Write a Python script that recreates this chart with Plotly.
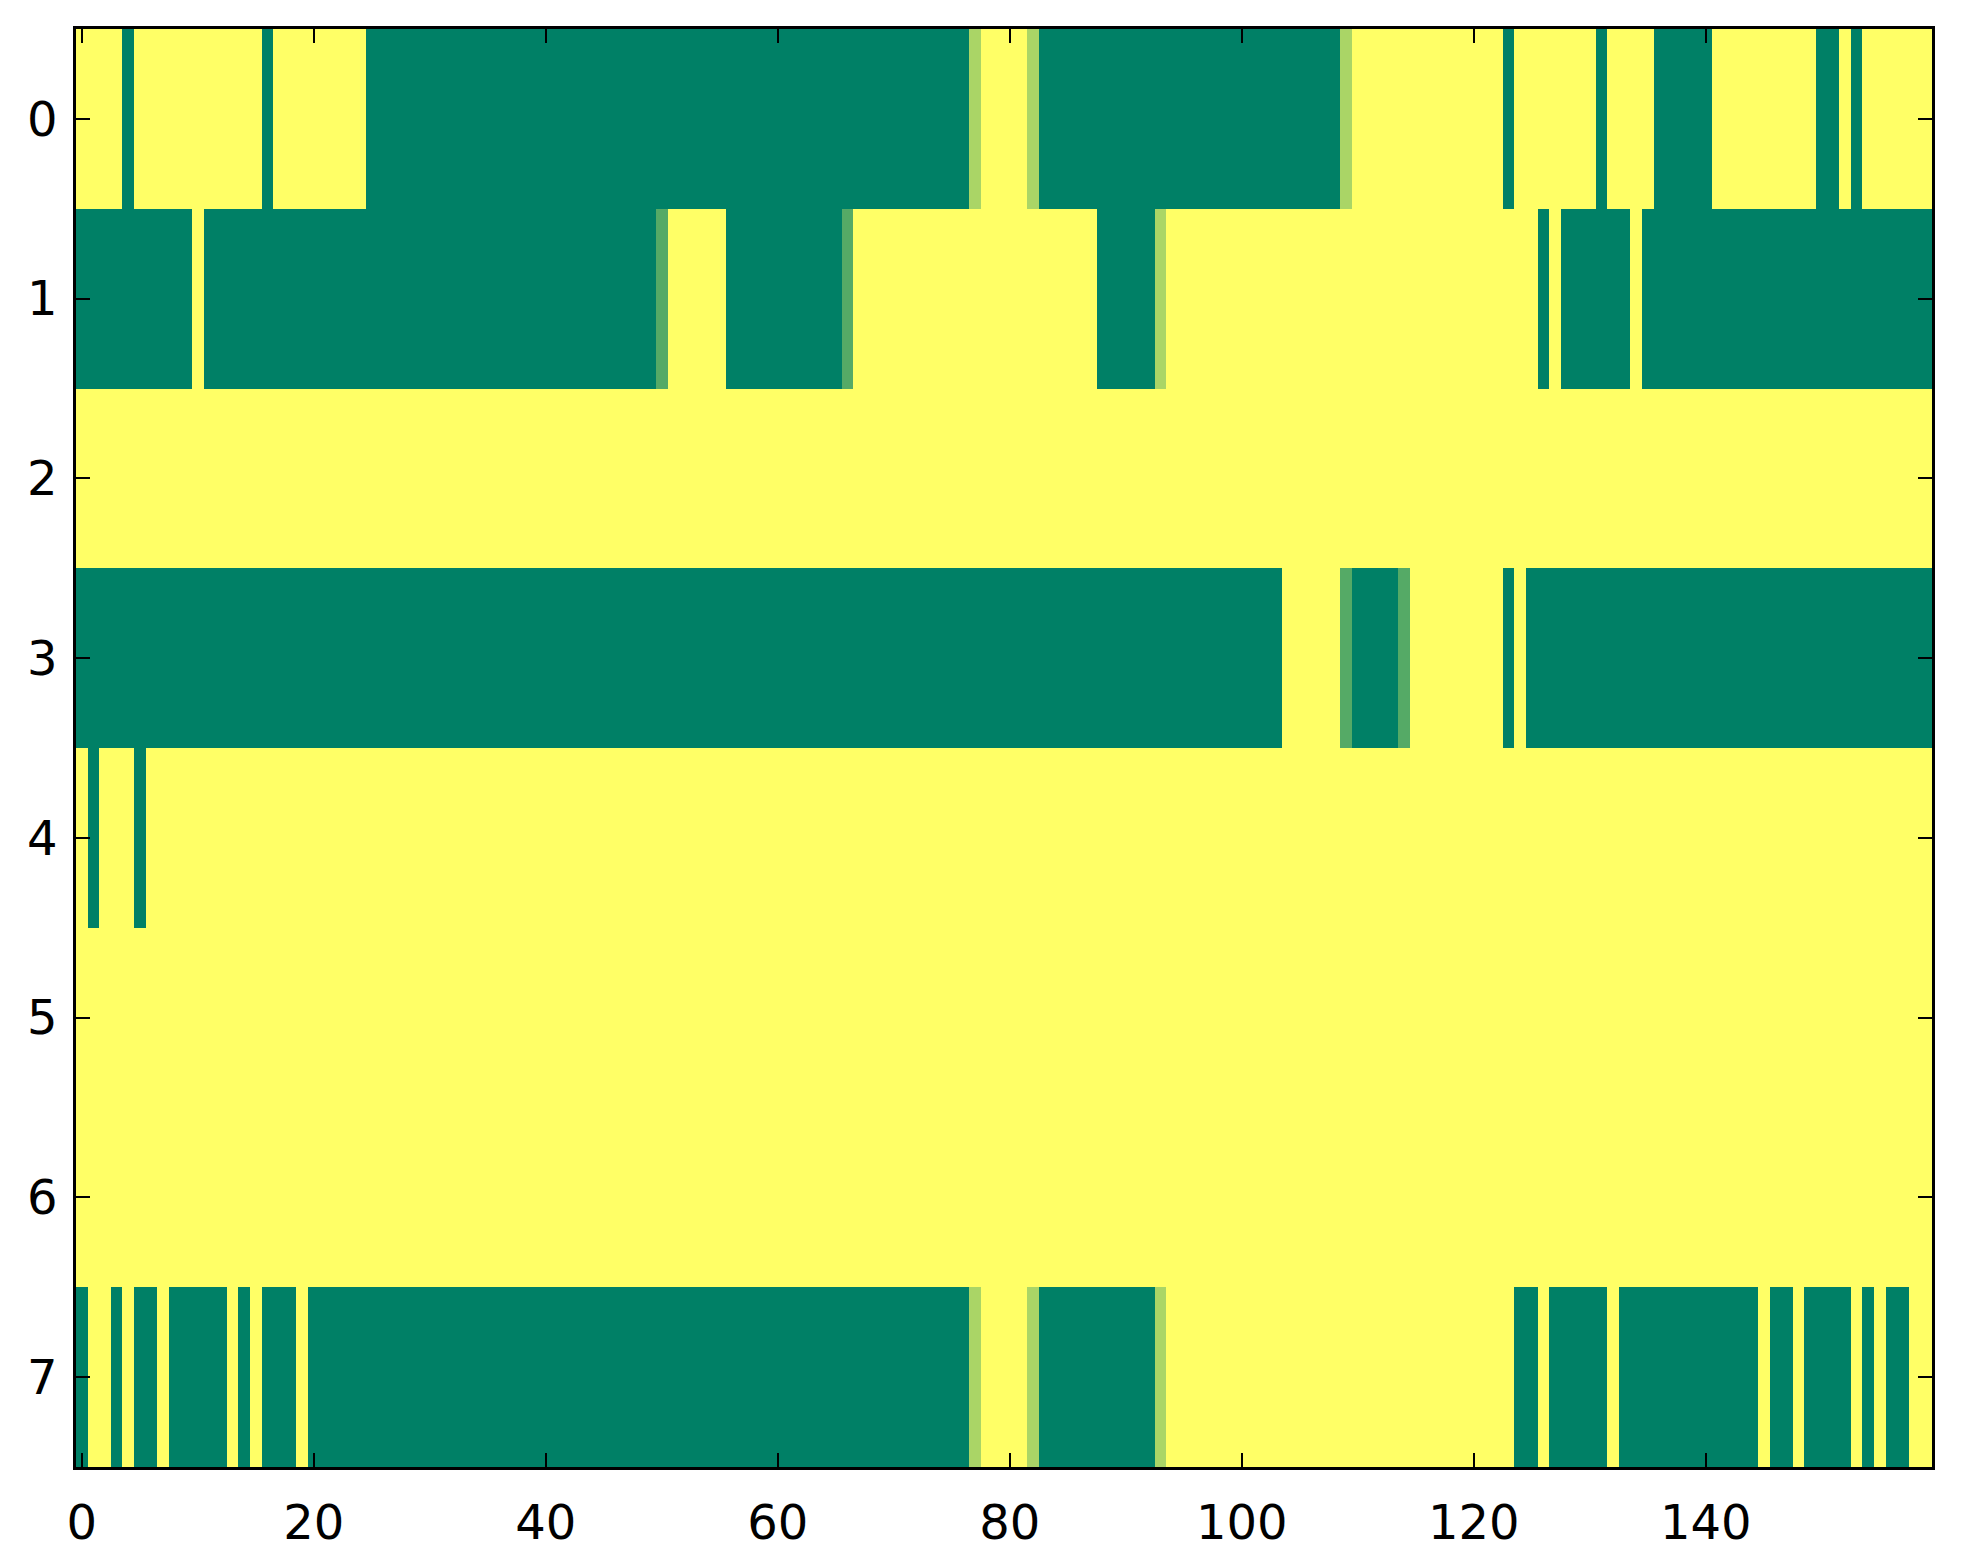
import plotly.graph_objects as go

# Each row is stored as runs of (level, count); level 0 = yellow ... 3 = green
row0_runs = [(0, 4), (3, 1), (0, 11), (3, 1), (0, 8), (3, 52), (1, 1), (0, 4), (1, 1), (3, 26),
             (1, 1), (0, 13), (3, 1), (0, 7), (3, 1), (0, 4), (3, 5), (0, 9), (3, 2), (0, 1),
             (3, 1), (0, 6)]
row1_runs = [(3, 10), (0, 1), (3, 39), (2, 1), (0, 5), (3, 10), (2, 1), (0, 21), (3, 5), (1, 1),
             (0, 32), (3, 1), (0, 1), (3, 6), (0, 1), (3, 25)]
row2_runs = [(0, 160)]
row3_runs = [(3, 104), (0, 5), (2, 1), (3, 4), (2, 1), (0, 8), (3, 1), (0, 1), (3, 35)]
row4_runs = [(0, 1), (3, 1), (0, 3), (3, 1), (0, 154)]
row5_runs = [(0, 160)]
row6_runs = [(0, 160)]
row7_runs = [(3, 1), (0, 2), (3, 1), (0, 1), (3, 2), (0, 1), (3, 5), (0, 1), (3, 1), (0, 1),
             (3, 3), (0, 1), (3, 57), (1, 1), (0, 4), (1, 1), (3, 10), (1, 1), (0, 30), (3, 2),
             (0, 1), (3, 5), (0, 1), (3, 12), (0, 1), (3, 2), (0, 1), (3, 4), (0, 1), (3, 1),
             (0, 1), (3, 2), (0, 2)]

x_ticks = [0, 20, 40, 60, 80, 100, 120, 140]
y_ticks = [0, 1, 2, 3, 4, 5, 6, 7]

all_runs = [row0_runs, row1_runs, row2_runs, row3_runs, row4_runs, row5_runs, row6_runs, row7_runs]

z = []
for runs in all_runs:
    row = []
    for level, count in runs:
        row += [level / 3] * count
    z.append(row)

n_cols = len(z[0])

# summer colormap, reversed (yellow -> green)
colorscale = [[0.0, "#ffff66"], [1.0, "#008066"]]

fig = go.Figure()
fig.add_trace(go.Heatmap(
    z=z,
    x=list(range(n_cols)),
    y=y_ticks,
    colorscale=colorscale,
    zmin=0, zmax=1,
    showscale=False,
    hoverinfo="skip",
))

axis_style = dict(
    showline=True, linecolor="black", linewidth=2.5, mirror="allticks",
    ticks="inside", ticklen=14, tickwidth=2, tickcolor="black",
    showgrid=False, zeroline=False,
    tickfont=dict(family="DejaVu Sans", size=48, color="black"),
)

fig.update_xaxes(range=[-0.5, n_cols - 0.5], tickvals=x_ticks, ticklabelstandoff=12, **axis_style)
fig.update_yaxes(range=[7.5, -0.5], tickvals=y_ticks, ticklabelstandoff=6, **axis_style)

fig.update_layout(
    width=1963, height=1564,
    margin=dict(l=68, r=39, t=21, b=105),
    paper_bgcolor="white",
    plot_bgcolor="white",
)

fig.write_html("out.html")
